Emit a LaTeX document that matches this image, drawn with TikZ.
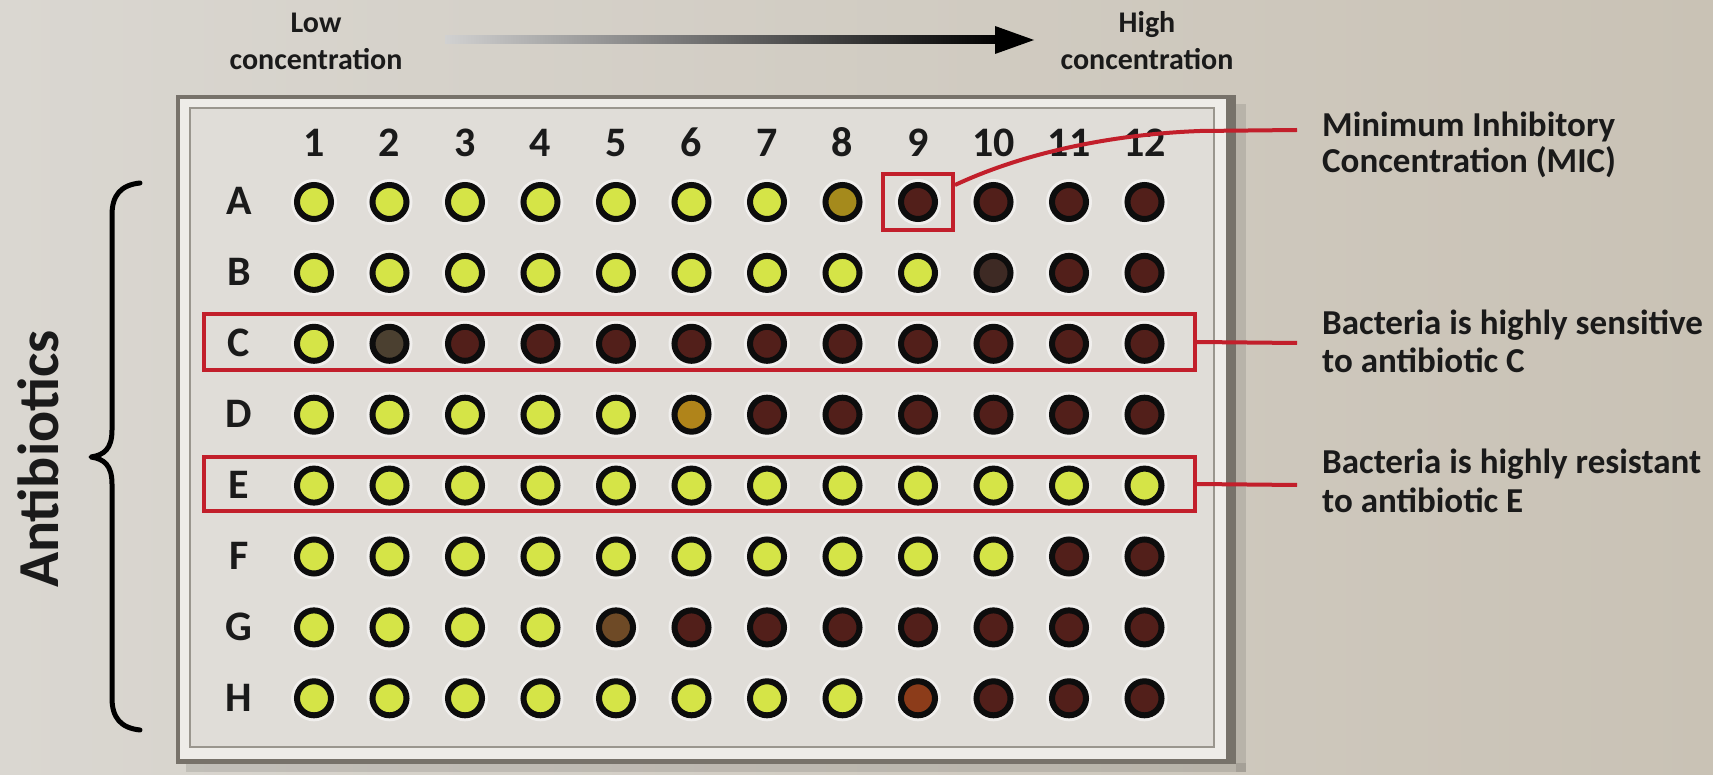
\documentclass[tikz,border=0pt]{standalone}
\usepackage{fontspec}
\setmainfont{Carlito}
\definecolor{bgL}{HTML}{DAD7D1}
\definecolor{bgR}{HTML}{C9C2B5}
\definecolor{framedark}{HTML}{77726A}
\definecolor{framelight}{HTML}{EEECE8}
\definecolor{panel}{HTML}{E0DDD8}
\definecolor{panelline}{HTML}{9A968E}
\definecolor{wy}{HTML}{D5E447}
\definecolor{wd}{HTML}{521F1A}
\definecolor{wo}{HTML}{A58A1C}
\definecolor{wg}{HTML}{3E2A24}
\definecolor{wc}{HTML}{4B4030}
\definecolor{wm}{HTML}{B0841A}
\definecolor{wb}{HTML}{6E4A26}
\definecolor{wr}{HTML}{8C3C1A}
\definecolor{mred}{HTML}{C21F2B}
\definecolor{ink}{HTML}{1A1A1A}
\begin{document}
\begin{tikzpicture}[x=1pt,y=-1pt,
  well/.style={circle,inner sep=0pt,minimum size=34pt,line width=6pt,draw=black!95},
  halo/.style={draw=white,opacity=0.55,line width=3pt},
  redbox/.style={draw=mred,line width=4pt,inner sep=0pt},
  redline/.style={draw=mred,line width=4pt},
  numlab/.style={font=\fontsize{42}{42}\selectfont\bfseries,text=ink,anchor=base,inner sep=0pt},
  toplab/.style={font=\fontsize{30}{30}\selectfont\bfseries,text=ink,anchor=base,inner sep=0pt},
  sidelab/.style={font=\fontsize{35}{35}\selectfont\bfseries,text=ink,anchor=base west,inner sep=0pt},
  bracestyle/.style={draw=black,line width=5pt,line cap=round,line join=round}]
\useasboundingbox (0,0) rectangle (1713,775);
\shade[left color=bgL,right color=bgR] (0,0) rectangle (1713,775);
% plate shadow
\fill[black,opacity=0.10] (1236,104) rectangle (1246,772);
\fill[black,opacity=0.10] (186,763) rectangle (1246,772);
% plate frame
\fill[framedark] (176,95) rectangle (1236,764);
\fill[framelight] (180,99) rectangle (1226,759);
\filldraw[fill=panel,draw=panelline,line width=2pt] (190,108) rectangle (1214,747);
% top labels and arrow
\node[toplab] (low1) at (316,33) {Low};
\node[toplab] (low2) at (316,70) {concentration};
\node[toplab] (high1) at (1147,33) {High};
\node[toplab] (high2) at (1147,70) {concentration};
\shade[left color=black!18,middle color=black!70,right color=black] (445,36) rectangle (1000,44);
\fill[black] (995,26) -- (1034,40) -- (995,54) -- cycle;
% column numbers
\foreach \i in {1,...,12} {
  \node[numlab] (n\i) at ({314+75.5*(\i-1)},157) {\i};
}
% wells
\foreach \r/\lab/\cols in {
  0/A/{y,y,y,y,y,y,y,o,d,d,d,d},
  1/B/{y,y,y,y,y,y,y,y,y,g,d,d},
  2/C/{y,c,d,d,d,d,d,d,d,d,d,d},
  3/D/{y,y,y,y,y,m,d,d,d,d,d,d},
  4/E/{y,y,y,y,y,y,y,y,y,y,y,y},
  5/F/{y,y,y,y,y,y,y,y,y,y,d,d},
  6/G/{y,y,y,y,b,d,d,d,d,d,d,d},
  7/H/{y,y,y,y,y,y,y,y,r,d,d,d}} {
  \node[numlab] (r\lab) at (239,{202+70.9*\r+13}) {\lab};
  \foreach \c [count=\i] in \cols {
    \draw[halo] ({314+75.5*(\i-1)},{202+70.9*\r}) circle (21.5pt);
    \node[well,fill=w\c] (w\lab\i) at ({314+75.5*(\i-1)},{202+70.9*\r}) {};
  }
}
% red highlight boxes
\node[redbox,minimum width=70pt,minimum height=56pt] (boxMIC) at (wA9) {};
\node[redbox,minimum width=991pt,minimum height=56pt] (boxC) at (699.5,342) {};
\node[redbox,minimum width=991pt,minimum height=54pt] (boxE) at (699.5,484) {};
% side labels
\node[sidelab] (mic1) at (1322,137) {Minimum Inhibitory};
\node[sidelab] (mic2) at (1322,173) {Concentration (MIC)};
\node[sidelab] (sen1) at (1322,335) {Bacteria is highly sensitive};
\node[sidelab] (sen2) at (1322,373) {to antibiotic C};
\node[sidelab] (res1) at (1322,473) {Bacteria is highly resistant};
\node[sidelab] (res2) at (1322,512) {to antibiotic E};
\coordinate (cMIC) at (1297,130);
\coordinate (cC) at (1297,343);
\coordinate (cE) at (1297,485);
\draw[redline] ([yshift=-13pt]boxMIC.north east) .. controls (1030,150) and (1120,134) .. (1200,131) -- (cMIC);
\draw[redline] (boxC.east) -- (cC);
\draw[redline] (boxE.east) -- (cE);
% brace and axis label
\draw[bracestyle] (140,183) .. controls (121,185) and (112,195) .. (112,215) -- (112,430)
  .. controls (112,449) and (104,455) .. (91,457) .. controls (104,459) and (112,465) .. (112,484)
  -- (112,698) .. controls (112,718) and (121,728) .. (140,730);
\node[font=\fontsize{58}{58}\selectfont\bfseries,text=ink,rotate=90,inner sep=0pt] (anti) at (38,459) {Antibiotics};
\end{tikzpicture}
\end{document}
